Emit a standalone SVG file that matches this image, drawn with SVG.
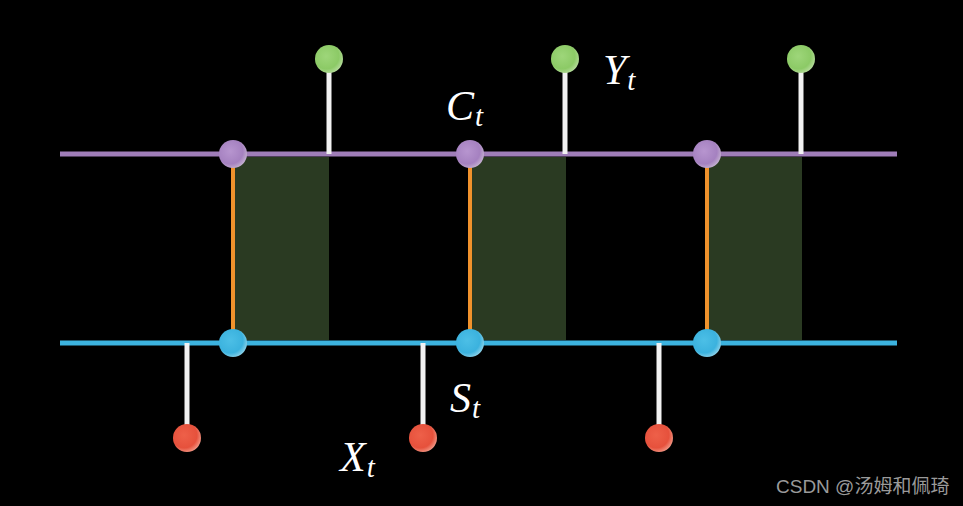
<svg xmlns="http://www.w3.org/2000/svg" width="963" height="506" viewBox="0 0 963 506">
<defs>
<radialGradient id="gP" cx="0.4" cy="0.4" r="0.65"><stop offset="0" stop-color="#b795cf"/><stop offset="0.7" stop-color="#a581c0"/><stop offset="1" stop-color="#c6b2d2"/></radialGradient>
<radialGradient id="gB" cx="0.4" cy="0.4" r="0.65"><stop offset="0" stop-color="#4cbfe6"/><stop offset="0.7" stop-color="#3bb2de"/><stop offset="1" stop-color="#8fd3ea"/></radialGradient>
<radialGradient id="gG" cx="0.4" cy="0.4" r="0.65"><stop offset="0" stop-color="#9ed67a"/><stop offset="0.7" stop-color="#8cca66"/><stop offset="1" stop-color="#b6dc9d"/></radialGradient>
<radialGradient id="gR" cx="0.4" cy="0.4" r="0.65"><stop offset="0" stop-color="#ee6049"/><stop offset="0.7" stop-color="#e6513c"/><stop offset="1" stop-color="#f29a88"/></radialGradient>
</defs>
<style>
.stem{stroke:#f2f2f2;stroke-width:5}
.orange{stroke:#f0922c;stroke-width:4}
.shade{fill:#2a3a22}
.lbl{font-family:"Liberation Serif",serif;font-style:italic;fill:#ffffff;font-size:42px}
.sub{font-size:29px}
.wm{font-family:"Liberation Sans","Noto Sans CJK SC",sans-serif;fill:#9a9a9a;font-size:19px}
</style>
<rect width="963" height="506" fill="#000000"/>
<g id="shading">
<rect class="shade" x="235" y="157" width="94" height="183"/>
<rect class="shade" x="472" y="157" width="94" height="183"/>
<rect class="shade" x="708" y="157" width="94" height="183"/>
</g>
<g id="connectors">
<line x1="60" y1="154" x2="897" y2="154" stroke="#9f7db8" stroke-width="5"/>
<line x1="60" y1="343" x2="897" y2="343" stroke="#3cb3df" stroke-width="5"/>
<line class="orange" x1="233" y1="154" x2="233" y2="343"/>
<line class="orange" x1="470" y1="154" x2="470" y2="343"/>
<line class="orange" x1="707" y1="154" x2="707" y2="343"/>
<line class="stem" x1="329" y1="60" x2="329" y2="154"/>
<line class="stem" x1="565" y1="60" x2="565" y2="154"/>
<line class="stem" x1="801" y1="60" x2="801" y2="154"/>
<line class="stem" x1="187" y1="343" x2="187" y2="438"/>
<line class="stem" x1="423" y1="343" x2="423" y2="438"/>
<line class="stem" x1="659" y1="343" x2="659" y2="438"/>
</g>
<g id="c1"><circle cx="233" cy="154" r="14" fill="url(#gP)"/></g>
<g id="c2"><circle cx="470" cy="154" r="14" fill="url(#gP)"/></g>
<g id="c3"><circle cx="707" cy="154" r="14" fill="url(#gP)"/></g>
<g id="s1"><circle cx="233" cy="343" r="14" fill="url(#gB)"/></g>
<g id="s2"><circle cx="470" cy="343" r="14" fill="url(#gB)"/></g>
<g id="s3"><circle cx="707" cy="343" r="14" fill="url(#gB)"/></g>
<g id="y1"><circle cx="329" cy="59" r="14" fill="url(#gG)"/></g>
<g id="y2"><circle cx="565" cy="59" r="14" fill="url(#gG)"/></g>
<g id="y3"><circle cx="801" cy="59" r="14" fill="url(#gG)"/></g>
<g id="x1"><circle cx="187" cy="438" r="14" fill="url(#gR)"/></g>
<g id="x2"><circle cx="423" cy="438" r="14" fill="url(#gR)"/></g>
<g id="x3"><circle cx="659" cy="438" r="14" fill="url(#gR)"/></g>
<g id="labels">
<text class="lbl" x="446" y="120">C<tspan class="sub" dx="1" dy="6">t</tspan></text>
<text class="lbl" x="603" y="84">Y<tspan class="sub" dx="1" dy="6">t</tspan></text>
<text class="lbl" x="450" y="412">S<tspan class="sub" dx="1" dy="6">t</tspan></text>
<text class="lbl" x="340" y="471">X<tspan class="sub" dx="1" dy="6">t</tspan></text>
</g>
<text class="wm" x="776" y="493">CSDN @汤姆和佩琦</text>
</svg>
